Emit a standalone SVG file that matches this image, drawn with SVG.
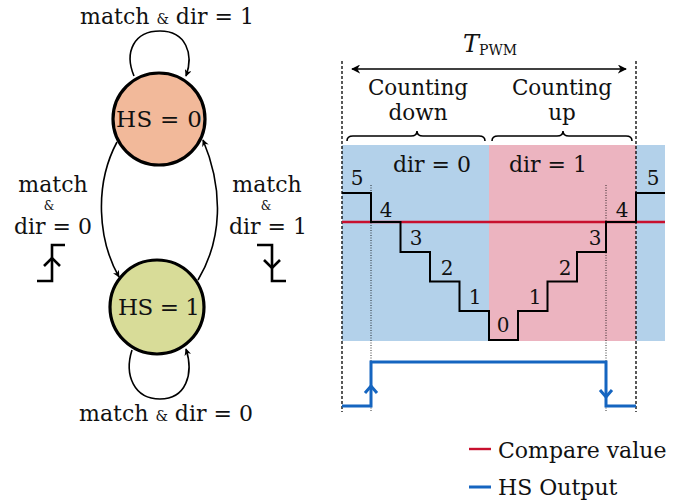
<svg xmlns="http://www.w3.org/2000/svg" width="686" height="504" viewBox="0 0 686 504">
  <style>
    text { font-family: "DejaVu Serif", "Liberation Serif", serif; fill: #111; }
    .lbl { font-size: 22px; text-anchor: middle; }
    .hdr { font-size: 21.5px; text-anchor: middle; }
    .st { font-size: 23px; text-anchor: middle; }
    .num { font-size: 20px; text-anchor: middle; }
    .amp { font-size: 14px; }
    .amps { font-size: 12px; text-anchor: middle; }
    .state { stroke: #000; stroke-width: 3.2; }
    .edge { fill: none; stroke: #000; stroke-width: 1.6; }
    .sym { fill: none; stroke: #000; stroke-width: 2.6; }
    .dash { stroke: #000; stroke-width: 1.3; stroke-dasharray: 3 2; }
    .dot { stroke: #000; stroke-width: 0.8; stroke-dasharray: 1 1.5; }
    .stair { fill: none; stroke: #000; stroke-width: 2; }
    .hs { fill: none; stroke: #1565c0; stroke-width: 3; }
    .cmp { stroke: #c8102e; stroke-width: 2.4; }
  </style>
  <defs>
    <marker id="arr" viewBox="0 0 10 10" refX="9" refY="5" markerWidth="7" markerHeight="7" orient="auto-start-reverse" markerUnits="userSpaceOnUse">
      <path d="M0,0 L10,5 L0,10 L3,5 Z" fill="#000"/>
    </marker>
    <marker id="arrT" viewBox="0 0 10 10" refX="9" refY="5" markerWidth="9" markerHeight="9" orient="auto-start-reverse" markerUnits="userSpaceOnUse">
      <path d="M0,0 L10,5 L0,10 L3,5 Z" fill="#000"/>
    </marker>
  </defs>

  <!-- State machine -->
  <g id="connectors">
    <path class="edge" d="M134,76 C124,52 134,31 160,31 C186,31 194,54 186,76" marker-end="url(#arr)"/>
    <path class="edge" d="M117,142 C94,185 98,240 119,277" marker-end="url(#arr)"/>
    <path class="edge" d="M198,280 C222,240 224,190 203,140" marker-end="url(#arr)"/>
    <path class="edge" d="M132,350 C124,375 134,399 160,399 C186,399 194,374 186,349" marker-end="url(#arr)"/>
  </g>

  <g id="hs0">
    <circle class="state" cx="159" cy="119" r="46" fill="#f2b99a"/>
    <text class="st" x="159" y="127" textLength="86" lengthAdjust="spacing">HS = 0</text>
  </g>
  <g id="hs1">
    <circle class="state" cx="157" cy="307" r="47" fill="#d8dc98"/>
    <text class="st" x="159" y="315" textLength="82" lengthAdjust="spacing">HS = 1</text>
  </g>

  <g id="edge-labels">
    <text class="lbl" x="167" y="24">match <tspan class="amp">&amp;</tspan> dir = 1</text>
    <text class="lbl" x="53" y="192">match</text>
    <text class="amps" x="49" y="210">&amp;</text>
    <text class="lbl" x="53" y="234">dir = 0</text>
    <text class="lbl" x="267" y="192">match</text>
    <text class="amps" x="266" y="210">&amp;</text>
    <text class="lbl" x="268" y="234">dir = 1</text>
    <text class="lbl" x="166" y="421">match <tspan class="amp">&amp;</tspan> dir = 0</text>
  </g>

  <!-- edge symbols -->
  <g id="rising-edge">
    <path class="sym" d="M37,281 H52 V245 H65"/>
    <path class="sym" d="M44,266 L52,258 L60,266"/>
  </g>
  <g id="falling-edge">
    <path class="sym" d="M257,245 H272 V281 H286"/>
    <path class="sym" d="M264,260 L272,268 L280,260"/>
  </g>

  <!-- PWM timing -->
  <g id="timing">
    <rect x="342" y="145" width="323" height="196" fill="#b3d1ea"/>
    <rect x="489" y="145" width="147" height="196" fill="#ecb4c0"/>

    <line class="dash" x1="342" y1="61" x2="342" y2="412"/>
    <line class="dash" x1="636" y1="61" x2="636" y2="412"/>
    <line class="dot" x1="371" y1="185" x2="371" y2="412"/>
    <line class="dot" x1="606" y1="185" x2="606" y2="412"/>

    <line x1="352" y1="69" x2="626" y2="69" stroke="#000" stroke-width="1.6" marker-start="url(#arrT)" marker-end="url(#arrT)"/>
    <text x="463" y="52" style="font-size:24px;font-style:italic">T<tspan style="font-style:normal;font-size:14px" dy="3">PWM</tspan></text>

    <text class="hdr" x="418" y="95">Counting</text>
    <text class="hdr" x="418" y="120">down</text>
    <text class="hdr" x="562" y="95">Counting</text>
    <text class="hdr" x="562" y="120">up</text>

    <path class="edge" d="M347,141 Q347,136 353,136 L411,136 Q417,136 417,131 Q417,136 423,136 L479,136 Q485,136 485,141"/>
    <path class="edge" d="M492,141 Q492,136 498,136 L557,136 Q563,136 563,131 Q563,136 569,136 L626,136 Q632,136 632,141"/>

    <text class="lbl" x="432" y="172">dir = 0</text>
    <text class="lbl" x="548" y="172">dir = 1</text>

    <line class="cmp" x1="342" y1="222" x2="665" y2="222"/>

    <path class="stair" d="M342,193 H371 V222 H400.5 V252 H430 V281.5 H459.5 V311 H489 V340 H518 V311 H547.5 V281.5 H577 V252 H606 V222 H636 V193 H665"/>

    <text class="num" x="357" y="185">5</text>
    <text class="num" x="386" y="217">4</text>
    <text class="num" x="416" y="245">3</text>
    <text class="num" x="447" y="275">2</text>
    <text class="num" x="475" y="304">1</text>
    <text class="num" x="503" y="332">0</text>
    <text class="num" x="535" y="304">1</text>
    <text class="num" x="565" y="275">2</text>
    <text class="num" x="595" y="245">3</text>
    <text class="num" x="622" y="217">4</text>
    <text class="num" x="653" y="185">5</text>

    <path class="hs" d="M342,406 H371 V362 H606 V406 H636"/>
    <path class="hs" d="M365,393 L371,386 L377,393" stroke-width="2.2"/>
    <path class="hs" d="M600,390 L606,397 L612,390" stroke-width="2.2"/>
  </g>

  <g id="legend">
    <line class="cmp" x1="469" y1="449" x2="491" y2="449" stroke-width="3"/>
    <text class="lbl" x="498" y="458" style="text-anchor:start">Compare value</text>
    <line x1="469" y1="487" x2="491" y2="487" stroke="#1565c0" stroke-width="3"/>
    <text class="lbl" x="498" y="495" style="text-anchor:start">HS Output</text>
  </g>
</svg>
